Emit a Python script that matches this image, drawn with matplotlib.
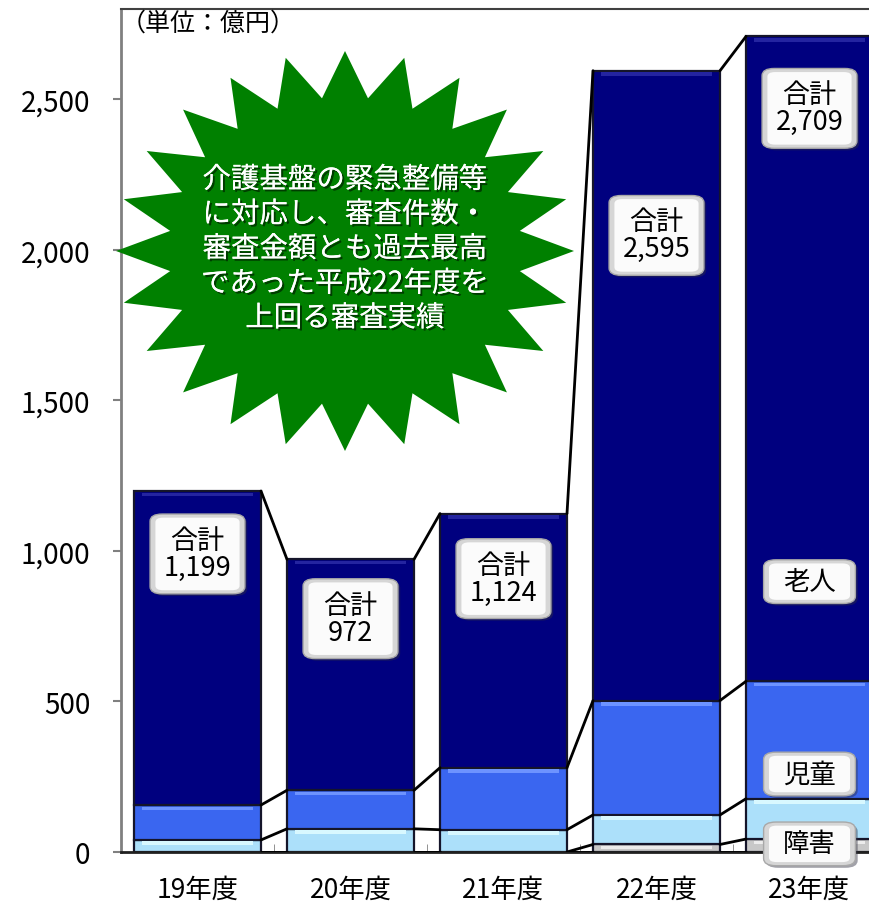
import numpy as np
import matplotlib.pyplot as plt
import matplotlib.patheffects as pe
from matplotlib.patches import Polygon, FancyBboxPatch
from matplotlib.ticker import FuncFormatter, FixedLocator

plt.rcParams['font.family'] = ['Noto Sans CJK JP', 'DejaVu Sans']

# 審査金額（億円）
years = ['19年度', '20年度', '21年度', '22年度', '23年度']
other = [0, 0, 0, 25, 43]
shogai = [40, 77, 74, 98, 134]      # 障害
jido = [116, 128, 206, 380, 390]    # 児童
rojin = [1043, 767, 844, 2092, 2142]  # 老人
totals = [1199, 972, 1124, 2595, 2709]

# 合計ラベルの位置
total_label_y = [990, 775, 908, 2048, 2470]
series_names = ['老人', '児童', '障害']
series_label_y = [898, 259, 27]

colors = ['#c8c8c8', '#ace0fa', '#3a66f0', '#00007f']
highlights = ['#ececec', '#d8f8ff', '#6d93ff', '#2424a0']
series = [other, shogai, jido, rojin]

fig = plt.figure(figsize=(8.7, 9.03), dpi=100)
ax = fig.add_axes([121 / 870, 50 / 903, 765 / 870, 843 / 903])

x = np.arange(len(years))
width = 0.83
bottom = np.zeros(len(years))
bounds = [bottom.copy()]
for vals, c, hl in zip(series, colors, highlights):
    vals = np.array(vals, dtype=float)
    ax.bar(x, vals, width, bottom=bottom, color=c, edgecolor='#15152a',
           linewidth=1.6, zorder=2)
    # bevel highlight along the top of each segment
    band = np.minimum(vals * 0.4, 12)
    ax.bar(x, band, width * 0.88, bottom=bottom + vals - band - 5,
           color=hl, linewidth=0, zorder=2.5)
    bottom = bottom + vals
    bounds.append(bottom.copy())

# connector lines between neighbouring bars
for b in bounds:
    for i in range(len(years) - 1):
        ax.plot([x[i] + width / 2, x[i + 1] - width / 2], [b[i], b[i + 1]],
                color='black', lw=2, zorder=3, solid_capstyle='round')


def label_box(xc, yc, w, h, text, fs):
    shadow = FancyBboxPatch((xc - w / 2 + 0.015, yc - h / 2 - 7), w, h,
                            boxstyle='round,pad=0,rounding_size=0.08',
                            mutation_aspect=300, fc='#303040', ec='none',
                            alpha=0.45, zorder=4, clip_on=False)
    outer = FancyBboxPatch((xc - w / 2, yc - h / 2), w, h,
                           boxstyle='round,pad=0,rounding_size=0.08',
                           mutation_aspect=300, fc='#d6d6d6', ec='#a8a8a8',
                           lw=1, zorder=4, clip_on=False)
    inner = FancyBboxPatch((xc - w / 2 + 0.035, yc - h / 2 + 12), w - 0.07, h - 24,
                           boxstyle='round,pad=0,rounding_size=0.05',
                           mutation_aspect=300, fc='#fbfbfb', ec='none',
                           zorder=4, clip_on=False)
    for p in (shadow, outer, inner):
        ax.add_patch(p)
    ax.text(xc, yc, text, ha='center', va='center', fontsize=fs,
            linespacing=1.0, zorder=5, clip_on=False)


for i, t in enumerate(totals):
    label_box(x[i], total_label_y[i], 0.62, 265, f'合計\n{t:,}', 19.5)

for name, ly in zip(series_names, series_label_y):
    label_box(x[-1], ly, 0.6, 145, name, 19)

ax.set_xlim(-0.5, 4.5)
ax.set_ylim(0, 2800)
ax.set_yticks(range(0, 2501, 500))
ax.yaxis.set_major_formatter(FuncFormatter(lambda v, p: f'{int(v):,}'))
ax.tick_params(axis='y', direction='out', length=6, width=1.5, color='#808080',
               labelsize=20, pad=16)
ax.set_xticks(x)
ax.set_xticklabels(years)
ax.tick_params(axis='x', which='major', length=0, labelsize=19, pad=17)
ax.xaxis.set_minor_locator(FixedLocator(x[:-1] + 0.5))
ax.tick_params(axis='x', which='minor', direction='in', length=6, color='#808080')

ax.spines['left'].set_color('#808080')
ax.spines['left'].set_linewidth(2)
ax.spines['bottom'].set_color('#202020')
ax.spines['bottom'].set_linewidth(2)
ax.spines['top'].set_color('#404040')
ax.spines['top'].set_linewidth(1.5)
ax.spines['right'].set_visible(False)

ax.text(0.0, 1 - 1 / 843, '（単位：億円）', transform=ax.transAxes, ha='left',
        va='top', fontsize=18, zorder=6)

# 24-point star callout
n = 24
cx, cy = 345 / 870, 1 - 252 / 903
rx, ry = 229 / 870, 200 / 903
ang = np.pi / 2 - np.arange(2 * n) * np.pi / n
rad = np.where(np.arange(2 * n) % 2 == 0, 1.0, 0.77)
pts = np.column_stack([cx + rx * rad * np.cos(ang), cy + ry * rad * np.sin(ang)])
star = Polygon(pts, closed=True, fc='#008000', ec='none',
               transform=fig.transFigure, zorder=3)
fig.add_artist(star)

msg = '介護基盤の緊急整備等\nに対応し、審査件数・\n審査金額とも過去最高\nであった平成22年度を\n上回る審査実績'
fig.text(cx, cy + 2 / 903, msg, ha='center', va='center', color='white',
         fontsize=20.5, linespacing=1.2, zorder=4,
         path_effects=[pe.withSimplePatchShadow(offset=(1.5, -1.5),
                                                shadow_rgbFace='#002000', alpha=0.7),
                       pe.Normal()])

fig.savefig('out.png', dpi=100)
